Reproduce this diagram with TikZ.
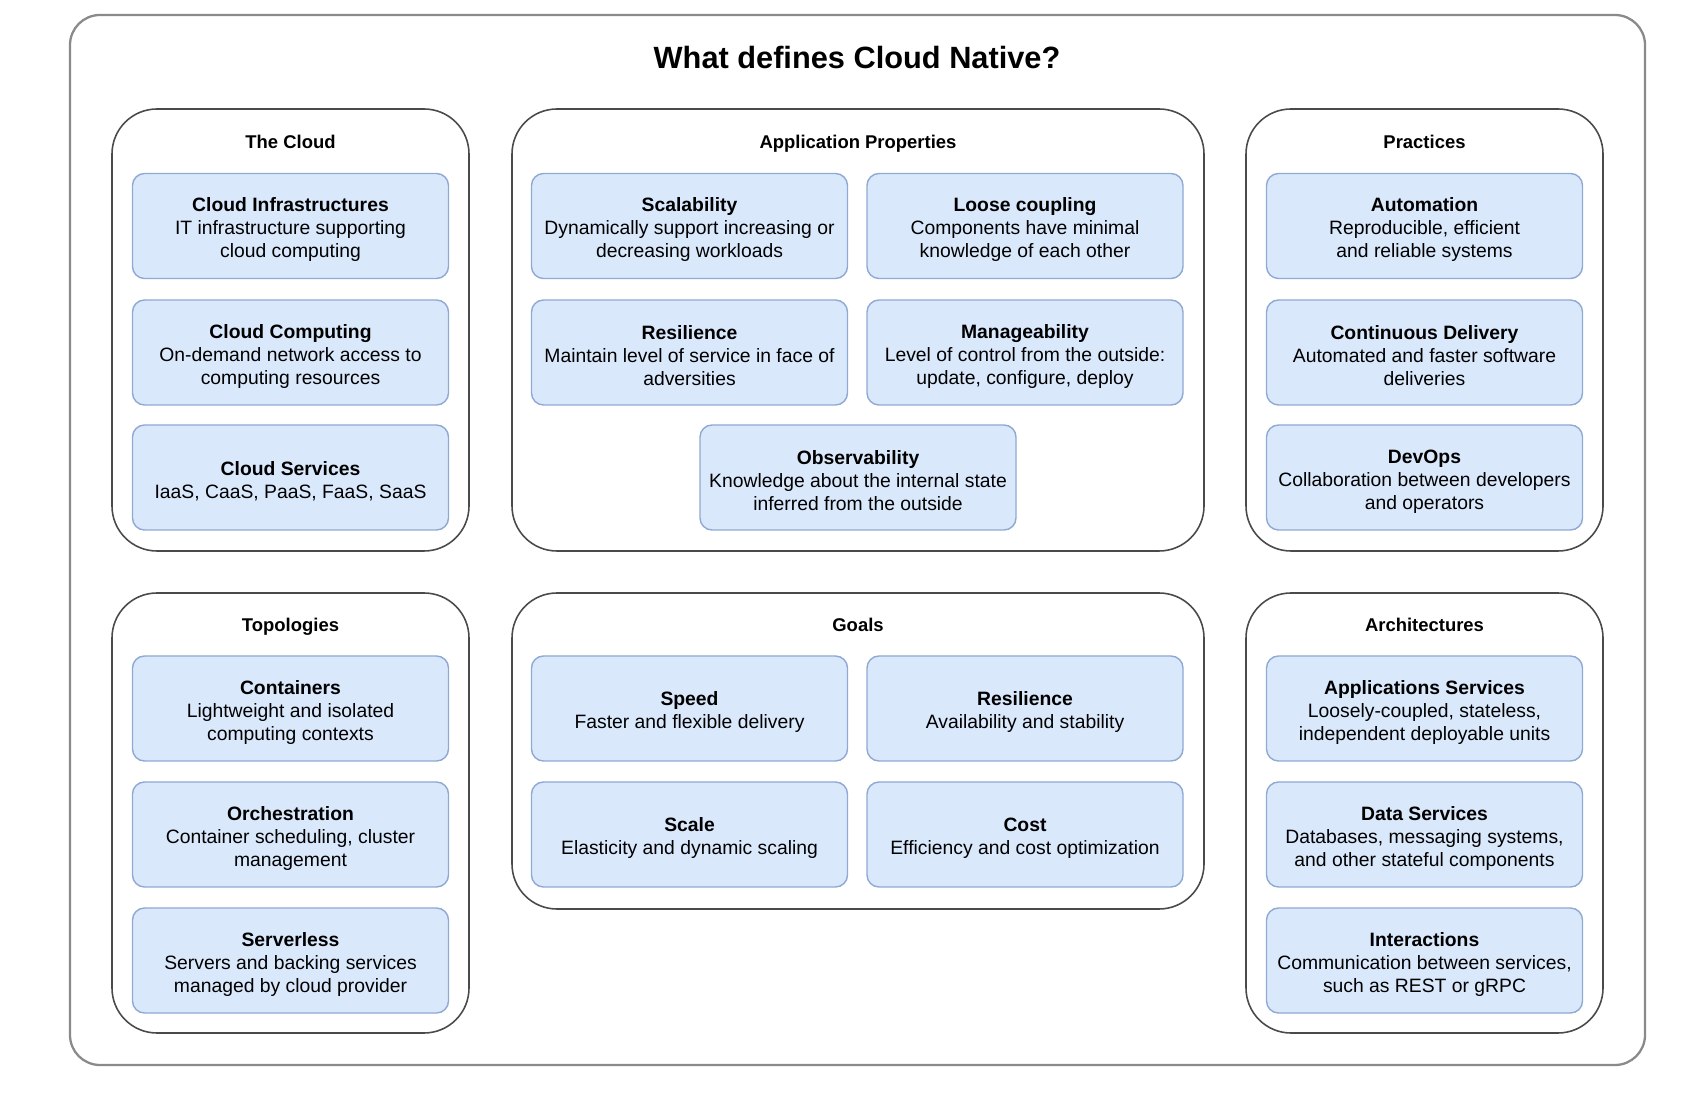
\documentclass[tikz,border=0pt]{standalone}
\usepackage{fontspec}
\setmainfont{Liberation Sans}
\usetikzlibrary{positioning}

\definecolor{itemfill}{HTML}{DAE8FC}
\definecolor{itemline}{HTML}{8FA9D3}
\definecolor{groupline}{HTML}{4A4A4A}
\definecolor{frameline}{HTML}{8A8A8A}

\newcommand{\itemhead}[1]{\rule{0pt}{12pt}\textbf{#1}}

\begin{document}
\begin{tikzpicture}[
  frame/.style={draw=frameline,line width=1.3pt,rounded corners=0.6cm,minimum width=31.5cm,minimum height=21cm},
  group/.style={draw=groupline,line width=0.9pt,rounded corners=0.9cm,minimum width=7.14cm,minimum height=8.84cm},
  grouptitle/.style={anchor=base,font=\fontsize{10.5}{12.5}\selectfont\bfseries},
  item/.style={draw=itemline,fill=itemfill,line width=0.8pt,rounded corners=0.24cm,
    minimum width=6.32cm,minimum height=2.1cm,align=center,inner sep=1pt,
    font=\fontsize{11}{13.1}\selectfont}
]

\useasboundingbox (0,0) rectangle (33.92,22.08);

\node [frame] (cn-frame) at (17.15,11.28){};
\node [font=\fontsize{17.5}{20}\selectfont\bfseries] (cn-title) at (17.14,20.92){What defines Cloud Native?};



\node [group] (cloud) at (5.81,15.48){};
\node [grouptitle] (cloud-title) at (5.81,19.11){The Cloud};

\node [item] (cloud-infra) at (5.81,17.56){\itemhead{Cloud Infrastructures}\\IT infrastructure supporting\\cloud computing};
\node [item] (cloud-computing) at (5.81,15.03){\itemhead{Cloud Computing}\\On-demand network access to\\computing resources};
\node [item] (cloud-services) at (5.81,12.53){\itemhead{Cloud Services}\\IaaS, CaaS, PaaS, FaaS, SaaS};



\node [group,minimum width=13.84cm] (app) at (17.16,15.48){};
\node [grouptitle] (app-title) at (17.16,19.11){Application Properties};

\node [item] (app-scalability) at (13.79,17.56){\itemhead{Scalability}\\Dynamically support increasing or\\decreasing workloads};
\node [item] (app-coupling) at (20.50,17.56){\itemhead{Loose coupling}\\Components have minimal\\knowledge of each other};
\node [item] (app-resilience) at (13.79,15.03){\itemhead{Resilience}\\Maintain level of service in face of\\adversities};
\node [item] (app-manage) at (20.50,15.03){\itemhead{Manageability}\\Level of control from the outside:\\update, configure, deploy};
\node [item] (app-observe) at (17.16,12.53){\itemhead{Observability}\\Knowledge about the internal state\\inferred from the outside};



\node [group] (practices) at (28.49,15.48){};
\node [grouptitle] (practices-title) at (28.49,19.11){Practices};

\node [item] (practices-auto) at (28.49,17.56){\itemhead{Automation}\\Reproducible, efficient\\and reliable systems};
\node [item] (practices-cd) at (28.49,15.03){\itemhead{Continuous Delivery}\\Automated and faster software\\deliveries};
\node [item] (practices-devops) at (28.49,12.53){\itemhead{DevOps}\\Collaboration between developers\\and operators};



\node [group,minimum height=8.8cm] (topo) at (5.81,5.82){};
\node [grouptitle] (topo-title) at (5.81,9.45){Topologies};

\node [item] (topo-containers) at (5.81,7.91){\itemhead{Containers}\\Lightweight and isolated\\computing contexts};
\node [item] (topo-orch) at (5.81,5.39){\itemhead{Orchestration}\\Container scheduling, cluster\\management};
\node [item] (topo-serverless) at (5.81,2.87){\itemhead{Serverless}\\Servers and backing services\\managed by cloud provider};



\node [group,minimum width=13.84cm,minimum height=6.32cm] (goals) at (17.16,7.06){};
\node [grouptitle] (goals-title) at (17.16,9.45){Goals};

\node [item] (goals-speed) at (13.79,7.91){\itemhead{Speed}\\Faster and flexible delivery};
\node [item] (goals-resilience) at (20.50,7.91){\itemhead{Resilience}\\Availability and stability};
\node [item] (goals-scale) at (13.79,5.39){\itemhead{Scale}\\Elasticity and dynamic scaling};
\node [item] (goals-cost) at (20.50,5.39){\itemhead{Cost}\\Efficiency and cost optimization};



\node [group,minimum height=8.8cm] (arch) at (28.49,5.82){};
\node [grouptitle] (arch-title) at (28.49,9.45){Architectures};

\node [item] (arch-apps) at (28.49,7.91){\itemhead{Applications Services}\\Loosely-coupled, stateless,\\independent deployable units};
\node [item] (arch-data) at (28.49,5.39){\itemhead{Data Services}\\Databases, messaging systems,\\and other stateful components};
\node [item] (arch-inter) at (28.49,2.87){\itemhead{Interactions}\\Communication between services,\\such as REST or gRPC};


%%%%%%%%%%%%%%%%%%%%%%%%%%%%%%%%%%%%%%%%%%%%%%%%%%%%%%%%%%%%%%%%%

\end{tikzpicture}
\end{document}
